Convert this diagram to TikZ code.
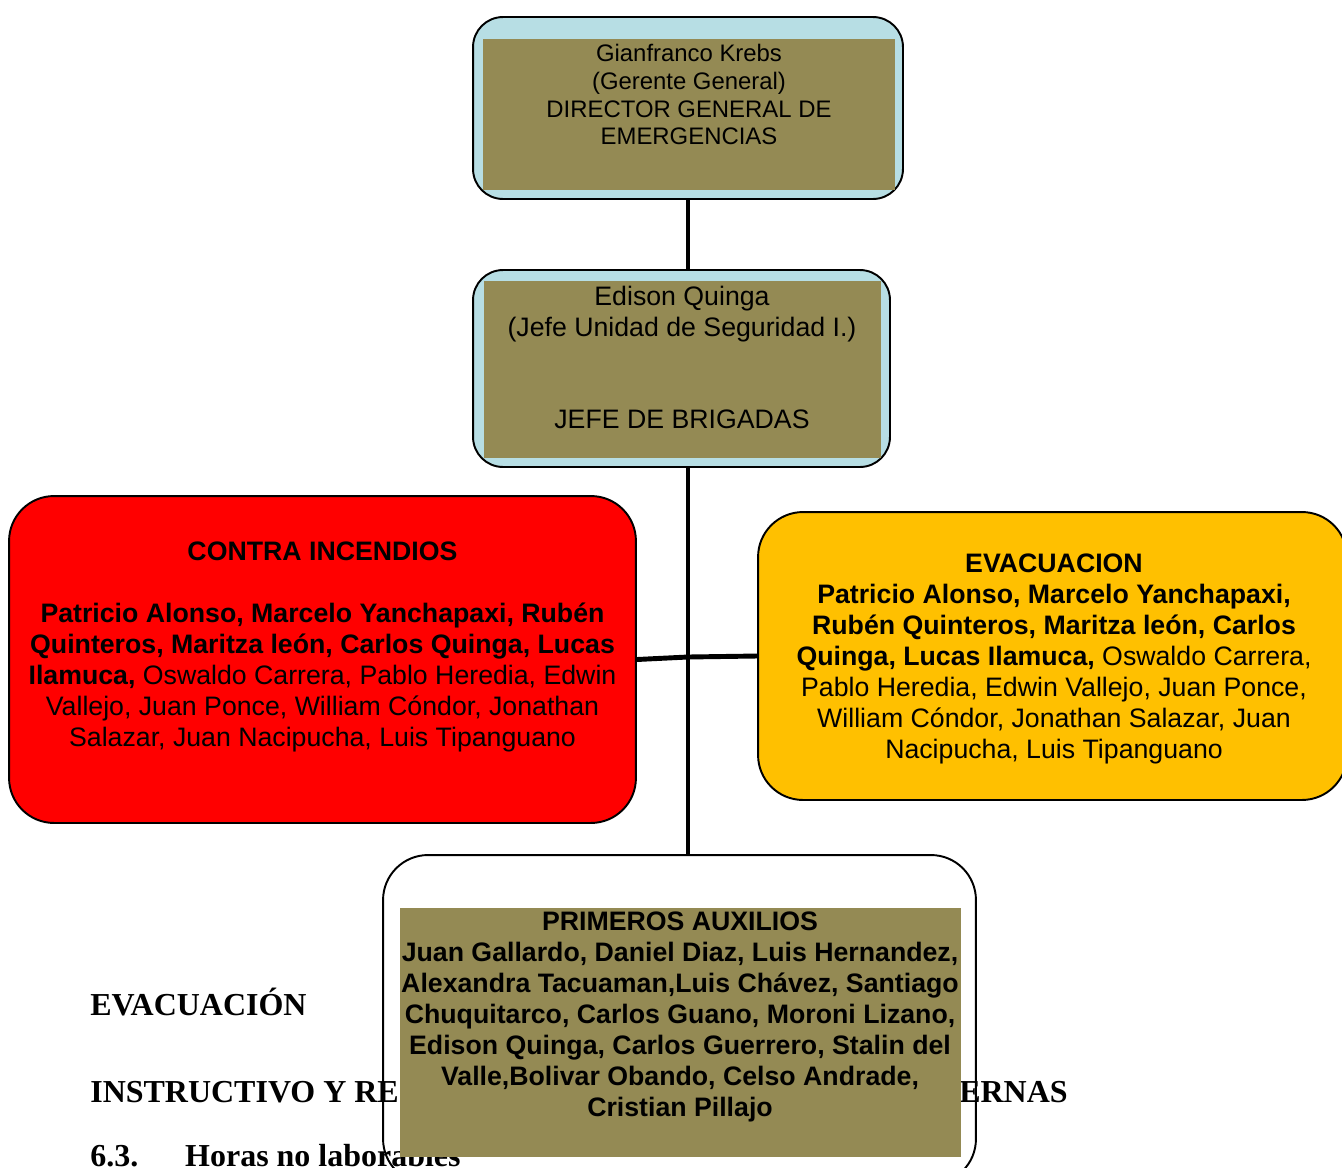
\documentclass[tikz,border=0pt]{standalone}
\usepackage{fontspec}
\setmainfont{Liberation Sans}
\newfontfamily\docserif{Liberation Serif}
\definecolor{olivo}{HTML}{948A54}
\definecolor{celeste}{RGB}{183,222,228}
\definecolor{amarillo}{HTML}{FFC000}
\begin{document}
\begin{tikzpicture}[
    x=0.02cm, y=-0.02cm,
    caja/.style   = {draw, line width=1.1pt, rounded corners=0.6cm, inner sep=0pt},
    texto/.style  = {align=center, inner sep=0pt, font=\fontsize{15.2}{17.6}\selectfont},
    titulo/.style = {anchor=base west, inner sep=0pt, font=\docserif\bfseries\fontsize{18.2}{20}\selectfont},
    enlace/.style = {line width=2.8pt},
  ]
	\useasboundingbox (0,0) rectangle (1342,1167);
	
	% Texto del documento (detras del organigrama)
	\node (t1) [titulo] at (90,1015) {EVACUACIÓN};
	\node (t2) [titulo] at (90,1102) {INSTRUCTIVO Y RE};
	\node (t3) [titulo, anchor=base east] at (1068,1102) {ERNAS};
	\node (t4) [titulo] at (90,1166) {\makebox[54pt][l]{6.3.}Horas no laborables};
	
	\coordinate (cruce) at (688,657); % punto de union
	
	% Cajas
	\node (director) [caja, fill=celeste, minimum width=8.6cm, minimum height=3.64cm] at (688,108) {};
	\node (jefe) [caja, fill=celeste, minimum width=8.34cm, minimum height=3.94cm] at (681.5,368.5) {};
	\node (contra) [caja, fill=red, rounded corners=0.9cm, minimum width=12.54cm, minimum height=6.54cm] at (322.5,659.5) {};
	\node (evac) [caja, fill=amarillo, rounded corners=0.9cm, minimum width=11.78cm, minimum height=5.76cm] at (1052.5,656) {};
	\node (aux) [caja, rounded corners=0.9cm, minimum width=11.86cm, minimum height=6.58cm] at (679.5,1019.5) {};
	
	% Lineas
	\draw[enlace] (director.south) -- (director.south |- jefe.north);
	\draw[enlace] (cruce |- jefe.south) -- (cruce |- aux.north);
	\draw[enlace] (contra.east) -- (cruce) -- (evac.west);
	
	% Rellenos interiores
	\fill[olivo] (483,39) rectangle (895,190);
	\fill[olivo] (484,281) rectangle (881,458);
	\fill[olivo] (400,908) rectangle (961,1157);
	
	% Textos de las cajas
	\node (director-txt) [texto, font=\fontsize{13.6}{15.9}\selectfont] at (689,94.5)
	  {Gianfranco Krebs\\(Gerente General)\\DIRECTOR GENERAL DE\\EMERGENCIAS};
	\node (jefe-txt) [texto] at (682,357.5)
	  {Edison Quinga\\(Jefe Unidad de Seguridad I.)\\[35.2pt]JEFE DE BRIGADAS};
	\node (contra-txt) [texto] at (322.5,647)
	  {\textbf{CONTRA INCENDIOS}\\[17.6pt]
	   \textbf{Patricio Alonso, Marcelo Yanchapaxi, Rubén}\\
	   \textbf{Quinteros, Maritza león, Carlos Quinga, Lucas}\\
	   \textbf{Ilamuca,} Oswaldo Carrera, Pablo Heredia, Edwin\\
	   Vallejo, Juan Ponce, William Cóndor, Jonathan\\
	   Salazar, Juan Nacipucha, Luis Tipanguano};
	\node (evac-txt) [texto] at (1054,659)
	  {\textbf{EVACUACION}\\
	   \textbf{Patricio Alonso, Marcelo Yanchapaxi,}\\
	   \textbf{Rubén Quinteros, Maritza león, Carlos}\\
	   \textbf{Quinga, Lucas Ilamuca,} Oswaldo Carrera,\\
	   Pablo Heredia, Edwin Vallejo, Juan Ponce,\\
	   William Cóndor, Jonathan Salazar, Juan\\
	   Nacipucha, Luis Tipanguano};
	\node (aux-txt) [texto, font=\bfseries\fontsize{15.2}{17.6}\selectfont] at (680,1017)
	  {PRIMEROS AUXILIOS\\
	   Juan Gallardo, Daniel Diaz, Luis Hernandez,\\
	   Alexandra Tacuaman,Luis Chávez, Santiago\\
	   Chuquitarco, Carlos Guano, Moroni Lizano,\\
	   Edison Quinga, Carlos Guerrero, Stalin del\\
	   Valle,Bolivar Obando, Celso Andrade,\\
	   Cristian Pillajo};
\end{tikzpicture}
\end{document}
